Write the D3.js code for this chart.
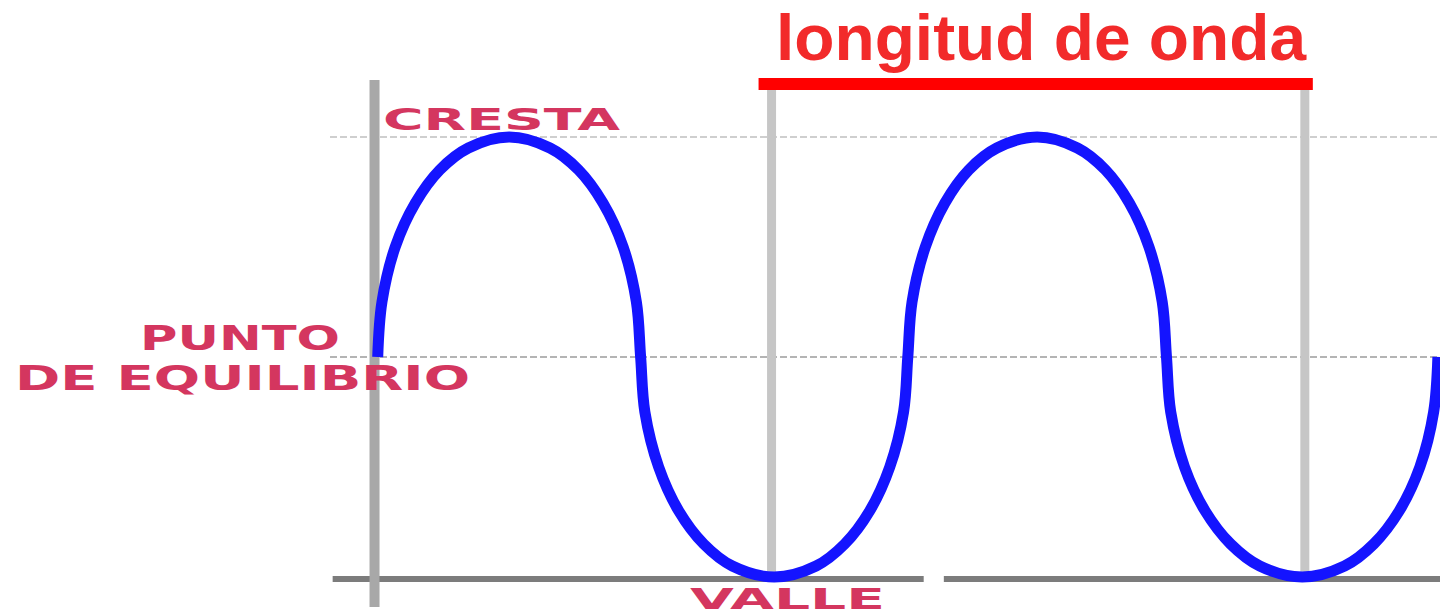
<!DOCTYPE html>
<html>
<head>
<meta charset="utf-8">
<script src="https://cdn.jsdelivr.net/npm/d3@7"></script>
<style>
  body { margin: 0; background: #fff; }
  svg { display: block; }
  .lbl { font-family: "DejaVu Sans", sans-serif; font-weight: bold; fill: #d4365f; }
</style>
</head>
<body>
<svg id="chart" width="1440" height="616"></svg>
<script>
// wave, x in wavelengths, y in amplitude (-1..1)
const waveX = [
  0, 0.008, 0.033, 0.071, 0.117, 0.171, 0.248, 0.325, 0.379, 0.425, 0.463, 0.488, 0.496,
  0.504, 0.530, 0.568, 0.615, 0.669, 0.748, 0.827, 0.881, 0.928, 0.966, 0.992, 1.0,
  1.008, 1.033, 1.070, 1.115, 1.168, 1.244, 1.320, 1.373, 1.418, 1.455, 1.480, 1.488,
  1.496, 1.522, 1.561, 1.609, 1.664, 1.744, 1.824, 1.879, 1.927, 1.966, 1.992, 2.0
];
const waveY = [
  0, 0.25, 0.5, 0.7, 0.85, 0.95, 1, 0.95, 0.85, 0.7, 0.5, 0.25, 0,
  -0.25, -0.5, -0.7, -0.85, -0.95, -1, -0.95, -0.85, -0.7, -0.5, -0.25, 0,
  0.25, 0.5, 0.7, 0.85, 0.95, 1, 0.95, 0.85, 0.7, 0.5, 0.25, 0,
  -0.25, -0.5, -0.7, -0.85, -0.95, -1, -0.95, -0.85, -0.7, -0.5, -0.25, 0
];
const valleyMarks = [0.743, 1.749];   // vertical lines bounding one wavelength
const title = "longitud de onda";

const svg = d3.select("#chart");
const x = d3.scaleLinear().domain([-0.09, 2.004]).range([330, 1440]);
const y = d3.scaleLinear().domain([-1, 1]).range([577, 137]);

// dashed guide lines at crest and equilibrium
svg.selectAll("line.guide")
  .data([1, 0])
  .enter().append("line")
    .attr("class", "guide")
    .attr("x1", x(-0.09)).attr("x2", x(2.004))
    .attr("y1", d => y(d)).attr("y2", d => y(d))
    .attr("stroke", d => d === 1 ? "#cfcfcf" : "#b4b4b4")
    .attr("stroke-width", 2)
    .attr("stroke-dasharray", "7,3");

// valley baseline, broken in the middle
svg.selectAll("line.base")
  .data([[-0.085, 1.03], [1.068, 2.004]])
  .enter().append("line")
    .attr("class", "base")
    .attr("x1", d => x(d[0])).attr("x2", d => x(d[1]))
    .attr("y1", y(-1) + 2).attr("y2", y(-1) + 2)
    .attr("stroke", "#7c7c7c")
    .attr("stroke-width", 6);

// left axis
svg.append("line")
  .attr("x1", x(-0.006)).attr("x2", x(-0.006))
  .attr("y1", 80).attr("y2", 607)
  .attr("stroke", "#a8a8a8")
  .attr("stroke-width", 10);

// wavelength markers
svg.selectAll("line.mark")
  .data(valleyMarks)
  .enter().append("line")
    .attr("class", "mark")
    .attr("x1", d => x(d)).attr("x2", d => x(d))
    .attr("y1", 88).attr("y2", y(-1) + 2)
    .attr("stroke", "#c6c6c6")
    .attr("stroke-width", 9);

// wave
const line = d3.line()
  .x(d => x(d[0]))
  .y(d => y(d[1]))
  .curve(d3.curveCatmullRom.alpha(0.5));

svg.append("path")
  .datum(d3.zip(waveX, waveY))
  .attr("d", line)
  .attr("fill", "none")
  .attr("stroke", "#1414ff")
  .attr("stroke-width", 11);

// wavelength bar + title
svg.append("line")
  .attr("x1", x(valleyMarks[0]) - 13).attr("x2", x(valleyMarks[1]) + 8)
  .attr("y1", 84).attr("y2", 84)
  .attr("stroke", "#ff0000")
  .attr("stroke-width", 12);

svg.append("text")
  .attr("x", 776).attr("y", 60)
  .attr("textLength", 530)
  .attr("lengthAdjust", "spacingAndGlyphs")
  .style("font-family", "'Liberation Sans', Arial, sans-serif")
  .style("font-weight", "bold")
  .style("font-size", "64px")
  .style("fill", "#f22a2a")
  .text(title);

// labels
const labels = [
  { t: "CRESTA", x: 383, y: 130, w: 237, s: 30 },
  { t: "PUNTO", x: 140, y: 350, w: 200, s: 33 },
  { t: "DE EQUILIBRIO", x: 15, y: 390, w: 455, s: 33 },
  { t: "VALLE", x: 690, y: 609, w: 195, s: 29 }
];
svg.selectAll("text.lbl")
  .data(labels)
  .enter().append("text")
    .attr("class", "lbl")
    .attr("x", d => d.x).attr("y", d => d.y)
    .attr("textLength", d => d.w)
    .attr("lengthAdjust", "spacingAndGlyphs")
    .style("font-size", d => d.s + "px")
    .text(d => d.t);
</script>
</body>
</html>
